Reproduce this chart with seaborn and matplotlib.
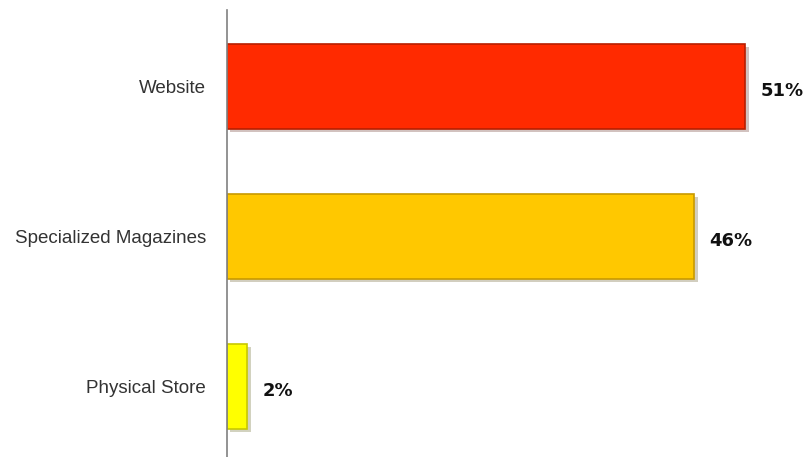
import matplotlib
matplotlib.use("Agg")
import matplotlib.pyplot as plt
import matplotlib.patheffects as pe
import seaborn as sns
import pandas as pd

categories = ["Website", "Specialized Magazines", "Physical Store"]
values = [51, 46, 2]
labels = ["51%", "46%", "2%"]
colors = ["#FF2A00", "#FFC800", "#FFFF00"]
edges = ["#B81E00", "#C89A00", "#C8C800"]

sns.set_style("white")
plt.rcParams['font.family'] = ['Liberation Sans', 'DejaVu Sans']

df = pd.DataFrame({"cat": categories, "val": values})

fig = plt.figure(figsize=(8.06, 4.57), dpi=100)
ax = fig.add_axes([227/806, 0, 1 - 227/806, 1 - 10/457])

sns.barplot(data=df, y="cat", x="val", hue="cat", palette=colors, order=categories,
            width=0.567, orient="h", legend=False, ax=ax, saturation=1)

for patch, ec in zip(ax.patches, edges):
    patch.set_edgecolor(ec)
    patch.set_linewidth(1.2)
    patch.set_path_effects([pe.SimplePatchShadow(offset=(2.5, -2.5), alpha=0.25),
                            pe.Normal()])

for i, (v, lab) in enumerate(zip(values, labels)):
    ax.text(v + 1.5, i + 0.03, lab, va="center", ha="left", fontsize=13,
            fontweight="bold", color="#111111", family="DejaVu Sans")

ax.set_xlim(0, (806 - 227) / 10.16)
ax.set_ylim(2.47, -0.51)
ax.set_xlabel("")
ax.set_ylabel("")
ax.set_xticks([])
ax.tick_params(axis="y", length=0, pad=15, labelsize=13.5, labelcolor="#333333")
for s in ["top", "right", "bottom"]:
    ax.spines[s].set_visible(False)
ax.spines["left"].set_color("#808080")
ax.spines["left"].set_linewidth(1.2)

fig.savefig("out.png", dpi=100)
